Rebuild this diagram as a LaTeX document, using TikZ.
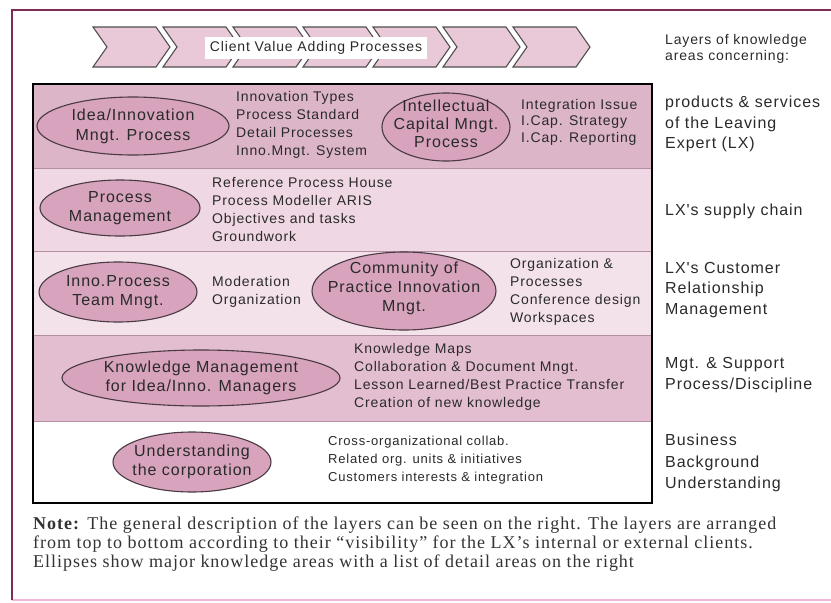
\documentclass[tikz,border=0pt]{standalone}
\usepackage{fontspec}
\setmainfont{Liberation Serif}
\newfontfamily\notefont[Ligatures=TeX, LetterSpace=5.5]{Liberation Serif}
\newfontfamily\sansw[LetterSpace=6]{Liberation Sans}
\usetikzlibrary{shapes.geometric}

\definecolor{frameline}{HTML}{7B2D55}
\definecolor{framelow}{HTML}{F2B6D6}
\definecolor{ink}{HTML}{2A2A2A}
\definecolor{notegray}{HTML}{333333}
\definecolor{rowA}{HTML}{DDB5C9}
\definecolor{rowB}{HTML}{EFD7E3}
\definecolor{rowC}{HTML}{F4E2EB}
\definecolor{rowD}{HTML}{E3BED0}
\definecolor{rowsep}{HTML}{B48EA2}
\definecolor{ellfill}{HTML}{D7A3BD}
\definecolor{ellline}{HTML}{4A3A43}
\definecolor{chevfill}{HTML}{E9C9D7}
\definecolor{chevline}{HTML}{4F4F4F}

\tikzset{
  % the ellipse keeps its given size; its caption sits in a centred label
  area/.style={ellipse, draw=ellline, fill=ellfill, line width=1.1pt,
    inner sep=0pt},
  areatext/.style={align=center, inner sep=0pt, text=ink,
    font=\sansw\fontsize{16}{19}\selectfont},
  detail/.style={anchor=west, align=left, inner sep=0pt, text=ink,
    font=\sansw\fontsize{14}{18}\selectfont},
  smalldetail/.style={detail, font=\sansw\fontsize{13}{18}\selectfont},
  layer/.style={anchor=west, align=left, inner sep=0pt, text=ink,
    font=\sansw\fontsize{16}{20.5}\selectfont},
  chevron/.style={fill=chevfill, draw=chevline, line width=1.1pt, line join=miter},
  band/.style={draw=rowsep, line width=0.8pt}
}

\begin{document}
\begin{tikzpicture}[x=1pt, y=-1pt]
\useasboundingbox (0,0) rectangle (831,603);

% outer frame
\draw[framelow, line width=1.5pt] (12,600) -- (831,600);
\draw[frameline, line width=2.4pt] (12,600) -- (12,10) -- (831,10);

% process chevrons
\foreach \i in {0,...,6} {
  \pgfmathsetmacro{\xa}{93+70*\i}
  \draw[chevron] (\xa,27) -- ++(63,0) -- ++(14,20) -- ++(-14,20)
    -- ++(-63,0) -- ++(14,-20) -- cycle;
}
\node[fill=white, inner sep=0pt, minimum width=222pt, minimum height=22pt,
  text=ink, font=\sansw\fontsize{14}{16}\selectfont] (cvap) at (316,48)
  {Client Value Adding Processes};

\node[layer, font=\sansw\fontsize{14}{16}\selectfont] (head) at (665,49)
  {Layers of knowledge\\areas concerning:};

% layer bands
\fill[rowA] (33,84) rectangle (652,168);
\fill[rowB] (33,168) rectangle (652,251);
\fill[rowC] (33,251) rectangle (652,335);
\fill[rowD] (33,335) rectangle (652,421);
\fill[white] (33,421) rectangle (652,503);
\draw[band] (33,168) -- (652,168);
\draw[band] (33,251) -- (652,251);
\draw[band] (33,335) -- (652,335);
\draw[band] (33,421) -- (652,421);
\draw[black, line width=1.2pt] (33,84) rectangle (652,503);

% layer 1: products & services
\node[area, minimum width=192pt, minimum height=58pt,
  label={[areatext, font=\sansw\fontsize{16}{20}\selectfont]center:{Idea/Innovation\\Mngt. Process}}]
  (idea) at (133,126) {};
\node[detail] (ideal) at (236,125)
  {Innovation Types\\Process Standard\\Detail Processes\\Inno.Mngt. System};
\node[area, minimum width=128pt, minimum height=68pt,
  label={[areatext, yshift=3pt, font=\sansw\fontsize{16}{18}\selectfont]center:{Intellectual\\Capital Mngt.\\Process}}]
  (icap) at (446,127) {};
\node[detail, font=\sansw\fontsize{14}{16.5}\selectfont] (icapl) at (521,122)
  {Integration Issue\\I.Cap. Strategy\\I.Cap. Reporting};
\node[layer] (l1) at (665,124) {products \& services\\of the Leaving\\Expert (LX)};

% layer 2: supply chain
\node[area, minimum width=160pt, minimum height=56pt,
  label={[areatext]center:{Process\\Management}}]
  (proc) at (120,208) {};
\node[detail] (procl) at (212,209)
  {Reference Process House\\Process Modeller ARIS\\Objectives and tasks\\Groundwork};
\node[layer] (l2) at (665,211) {LX's supply chain};

% layer 3: customer relationship
\node[area, minimum width=158pt, minimum height=60pt,
  label={[areatext]center:{Inno.Process\\Team Mngt.}}]
  (team) at (118,292) {};
\node[detail] (teaml) at (212,292) {Moderation\\Organization};
\node[area, minimum width=184pt, minimum height=78pt,
  label={[areatext, yshift=3pt]center:{Community of\\Practice Innovation\\Mngt.}}]
  (cop) at (404,291) {};
\node[detail] (copl) at (510,292)
  {Organization \&\\Processes\\Conference design\\Workspaces};
\node[layer] (l3) at (665,290) {LX's Customer\\Relationship\\Management};

% layer 4: management & support
\node[area, minimum width=278pt, minimum height=56pt,
  label={[areatext, font=\sansw\fontsize{16}{18.5}\selectfont]center:{Knowledge Management\\for Idea/Inno. Managers}}]
  (km) at (201,378) {};
\node[detail] (kml) at (354,377)
  {Knowledge Maps\\Collaboration \& Document Mngt.\\Lesson Learned/Best Practice Transfer\\Creation of new knowledge};
\node[layer] (l4) at (665,375) {Mgt. \& Support\\Process/Discipline};

% layer 5: business background
\node[area, minimum width=158pt, minimum height=60pt,
  label={[areatext]center:{Understanding\\the corporation}}]
  (corp) at (192,462) {};
\node[smalldetail] (corpl) at (328,460)
  {Cross-organizational collab.\\Related org. units \& initiatives\\Customers interests \& integration};
\node[layer, font=\sansw\fontsize{16}{21.5}\selectfont] (l5) at (665,463)
  {Business\\Background\\Understanding};

% note
\node[anchor=west, align=left, inner sep=0pt, text=notegray,
  font=\notefont\fontsize{18}{19}\selectfont] (note) at (33,544)
  {\textbf{Note:} The general description of the layers can be seen on the right. The layers are arranged\\
   from top to bottom according to their ``visibility'' for the LX's internal or external clients.\\
   Ellipses show major knowledge areas with a list of detail areas on the right};
\end{tikzpicture}
\end{document}
